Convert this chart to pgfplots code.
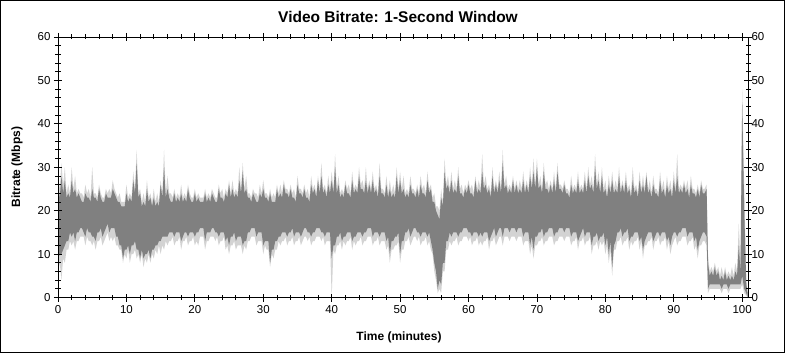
\documentclass[border=0pt]{standalone}
\usepackage{fontspec}
\setmainfont{Liberation Sans}
\usepackage{pgfplots}
\usepackage{pgfplotstable}
\usepgfplotslibrary{fillbetween}
\pgfplotsset{compat=1.18}
\definecolor{lgray}{RGB}{211,211,211}
\definecolor{dgray}{RGB}{128,128,128}

\pgfplotstableread{
t lmin dmin dmax lmax
0.0 6 9 25 28
0.25 8 10 23 25
0.5 4 10 28 31
0.75 9 11 24 26
1.0 8 12 27 30
1.25 11 13 23 24
1.5 11 13 24 26
1.75 13 15 23 24
2.0 12 14 27 30
2.25 13 15 24 25
2.5 11 13 25 28
2.75 13 15 23 24
3.0 13 15 24 25
3.25 14 16 23 24
3.5 14 16 22 24
3.75 14 15 22 23
4.0 12 14 24 26
4.25 14 16 23 24
4.5 13 15 23 25
4.75 13 15 22 23
5.0 12 14 25 30
5.25 13 14 23 24
5.5 11 13 23 24
5.75 13 15 22 23
6.0 13 15 25 26
6.25 14 16 23 24
6.5 12 14 22 23
6.75 13 15 22 23
7.0 14 16 24 25
7.25 15 17 23 24
7.5 13 15 23 25
7.75 14 16 23 24
8.0 13 16 25 27
8.25 14 16 24 25
8.5 12 14 23 24
8.75 12 14 22 23
9.0 11 12 22 24
9.25 11 12 21 22
9.5 8 9 21 22
9.75 10 11 21 22
10.0 9 11 24 26
10.25 11 12 22 23
10.5 8 10 23 24
10.75 10 12 22 23
11.0 10 12 27 29
11.25 11 13 24 25
11.5 9 11 31 34
11.75 10 11 23 24
12.0 8 9 24 25
12.25 10 11 21 22
12.5 7 9 22 24
12.75 9 10 21 22
13.0 8 10 25 27
13.25 10 11 22 23
13.5 8 9 23 24
13.75 10 11 21 22
14.0 9 11 23 25
14.25 11 12 21 22
14.5 10 12 22 24
14.75 12 13 21 22
15.0 10 13 26 27
15.25 12 14 23 24
15.5 11 14 30 34
15.75 13 14 23 24
16.0 12 14 25 28
16.25 13 15 23 24
16.5 13 15 22 24
16.75 14 15 22 23
17.0 12 14 24 25
17.25 13 15 22 23
17.5 13 15 23 24
17.75 14 15 22 23
18.0 11 13 24 26
18.25 13 14 22 23
18.5 13 15 23 24
18.75 14 15 22 23
19.0 12 14 25 26
19.25 13 15 23 24
19.5 13 15 22 23
19.75 14 15 22 23
20.0 12 14 24 25
20.25 13 15 22 23
20.5 12 15 23 24
20.75 14 16 22 23
21.0 14 16 22 23
21.25 14 16 22 23
21.5 11 13 24 25
21.75 13 15 22 23
22.0 13 15 23 24
22.25 14 15 22 23
22.5 14 16 24 25
22.75 14 16 23 24
23.0 13 15 22 23
23.25 14 15 22 23
23.5 12 14 25 26
23.75 13 15 23 24
24.0 13 15 23 25
24.25 14 15 22 23
24.5 11 13 24 25
24.75 12 14 23 24
25.0 10 12 26 27
25.25 12 14 23 24
25.5 12 14 25 27
25.75 13 15 23 24
26.0 11 13 24 25
26.25 12 14 23 24
26.5 12 14 27 30
26.75 12 14 24 25
27.0 10 12 29 31
27.25 12 13 24 25
27.5 11 13 25 28
27.75 13 15 23 24
28.0 13 15 23 24
28.25 14 16 22 23
28.5 14 16 24 25
28.75 14 16 23 24
29.0 12 14 22 24
29.25 13 15 22 23
29.5 13 15 24 26
29.75 13 15 23 24
30.0 10 12 25 27
30.25 12 13 23 24
30.5 11 13 23 24
30.75 11 13 22 23
31.0 7 8 24 25
31.25 10 11 22 23
31.5 9 11 22 24
31.75 11 13 22 23
32.0 11 13 25 26
32.25 13 14 23 24
32.5 12 14 24 26
32.75 13 15 23 24
33.0 13 15 26 27
33.25 14 15 24 25
33.5 12 14 24 25
33.75 13 15 23 24
34.0 13 15 25 26
34.25 14 16 23 24
34.5 12 14 23 25
34.75 13 15 22 23
35.0 13 15 26 28
35.25 14 15 24 25
35.5 12 14 24 25
35.75 13 15 23 24
36.0 14 16 25 26
36.25 14 16 23 24
36.5 13 15 23 25
36.75 14 15 22 23
37.0 12 14 26 28
37.25 13 15 24 25
37.5 13 15 25 26
37.75 14 16 23 24
38.0 14 16 27 28
38.25 14 16 24 25
38.5 13 15 28 31
38.75 14 15 24 25
39.0 12 14 25 26
39.25 13 15 23 24
39.5 13 15 26 28
39.75 13 15 24 25
40.0 0 9 27 29
40.25 11 12 24 25
40.5 10 12 30 33
40.75 12 14 24 25
41.0 12 14 26 28
41.25 13 15 23 24
41.5 11 13 24 25
41.75 13 14 23 24
42.0 12 14 26 27
42.25 13 15 24 25
42.5 13 15 24 26
42.75 14 15 23 24
43.0 11 13 27 29
43.25 13 14 24 25
43.5 12 14 25 26
43.75 13 15 24 25
44.0 13 15 28 30
44.25 14 15 25 26
44.5 12 14 25 27
44.75 13 15 24 25
45.0 13 15 27 30
45.25 14 16 24 25
45.5 14 16 26 27
45.75 14 16 24 25
46.0 12 14 27 29
46.25 13 15 24 25
46.5 13 15 25 26
46.75 14 15 23 24
47.0 12 14 28 31
47.25 13 15 24 25
47.5 13 15 24 25
47.75 13 15 23 24
48.0 11 13 26 28
48.25 12 14 23 24
48.5 8 10 25 27
48.75 11 13 23 24
49.0 11 13 24 26
49.25 12 14 23 24
49.5 12 14 28 30
49.75 13 15 24 25
50.0 8 10 27 29
50.25 11 13 24 25
50.5 11 13 25 28
50.75 13 15 23 24
51.0 13 15 24 25
51.25 14 16 23 24
51.5 12 14 26 28
51.75 13 15 24 25
52.0 14 16 24 25
52.25 14 16 23 24
52.5 13 15 25 26
52.75 14 15 23 24
53.0 12 14 26 28
53.25 13 15 24 25
53.5 13 15 24 26
53.75 14 15 23 24
54.0 12 14 27 29
54.25 13 15 24 25
54.5 11 13 25 26
54.75 10 11 22 23
55.0 6 8 22 24
55.25 4 6 20 21
55.5 1 2 19 21
55.75 2 4 18 20
56.0 1 3 23 25
56.25 6 8 21 22
56.5 6 8 29 32
56.75 11 13 25 26
57.0 11 13 26 28
57.25 13 15 24 25
57.5 12 14 27 29
57.75 13 15 24 25
58.0 13 15 25 27
58.25 14 15 24 25
58.5 12 14 28 30
58.75 13 15 24 25
59.0 13 15 24 26
59.25 14 16 23 24
59.5 14 16 25 26
59.75 14 16 24 25
60.0 13 15 26 27
60.25 14 15 24 25
60.5 12 14 24 26
60.75 13 15 23 24
61.0 13 15 27 28
61.25 14 15 24 25
61.5 12 14 25 27
61.75 13 15 24 25
62.0 12 14 29 33
62.25 13 15 25 26
62.5 13 15 26 28
62.75 14 15 24 25
63.0 11 13 25 26
63.25 13 14 23 24
63.5 13 15 28 30
63.75 14 16 24 25
64.0 12 14 26 27
64.25 13 15 24 25
64.5 14 16 27 29
64.75 14 16 24 25
65.0 12 14 31 34
65.25 14 16 25 26
65.5 14 16 26 28
65.75 14 16 24 25
66.0 13 15 25 26
66.25 14 16 24 25
66.5 14 16 27 28
66.75 14 16 24 25
67.0 13 15 26 27
67.25 14 16 24 25
67.5 14 16 25 27
67.75 14 16 24 25
68.0 12 14 27 29
68.25 13 15 24 25
68.5 13 15 26 27
68.75 13 15 24 25
69.0 10 12 28 30
69.25 12 14 25 26
69.5 9 11 29 32
69.75 12 14 25 26
70.0 12 14 30 32
70.25 13 15 25 26
70.5 13 15 26 28
70.75 14 16 24 25
71.0 12 14 29 31
71.25 13 15 25 26
71.5 13 15 25 27
71.75 14 16 24 25
72.0 14 16 26 27
72.25 14 16 24 25
72.5 12 14 27 29
72.75 13 15 24 25
73.0 13 15 29 31
73.25 14 16 25 26
73.5 14 16 25 26
73.75 14 16 24 25
74.0 13 15 26 27
74.25 14 16 24 25
74.5 14 16 24 25
74.75 14 16 23 24
75.0 12 14 26 28
75.25 13 15 24 25
75.5 13 15 25 26
75.75 14 15 24 25
76.0 11 13 27 29
76.25 13 14 24 25
76.5 13 15 25 26
76.75 14 16 24 25
77.0 12 14 27 29
77.25 13 15 24 25
77.5 13 15 28 30
77.75 14 15 25 26
78.0 10 12 26 28
78.25 12 14 24 25
78.5 12 14 30 33
78.75 13 15 25 26
79.0 11 13 27 29
79.25 13 14 24 25
79.5 12 14 28 30
79.75 13 15 24 25
80.0 10 12 25 27
80.25 12 14 23 24
80.5 8 10 26 28
80.75 11 13 24 25
81.0 5 7 27 29
81.25 11 12 24 25
81.5 11 13 25 27
81.75 13 15 24 25
82.0 13 15 28 30
82.25 14 16 24 25
82.5 12 14 26 27
82.75 13 15 24 25
83.0 13 15 27 29
83.25 14 16 24 25
83.5 11 13 25 26
83.75 13 14 23 24
84.0 12 14 27 30
84.25 13 15 24 25
84.5 13 15 25 26
84.75 14 15 23 24
85.0 11 13 27 29
85.25 13 14 24 25
85.5 9 11 26 28
85.75 12 13 24 25
86.0 12 14 28 29
86.25 13 15 24 25
86.5 13 15 25 27
86.75 14 15 23 24
87.0 11 13 26 28
87.25 13 14 24 25
87.5 13 15 24 25
87.75 14 15 23 24
88.0 12 14 27 29
88.25 13 15 24 25
88.5 13 15 25 27
88.75 14 15 23 24
89.0 11 13 26 28
89.25 13 14 24 25
89.5 10 12 25 27
89.75 12 14 23 24
90.0 13 15 27 29
90.25 14 15 24 25
90.5 12 14 28 33
90.75 13 15 24 25
91.0 13 15 25 26
91.25 14 16 24 25
91.5 14 16 26 27
91.75 14 16 24 25
92.0 12 14 25 27
92.25 13 15 23 24
92.5 13 15 26 28
92.75 14 15 24 25
93.0 11 13 24 25
93.25 12 14 23 24
93.5 9 11 25 26
93.75 12 13 23 24
94.0 12 14 26 27
94.25 13 15 24 25
94.5 13 15 24 25
94.8 12 14 25 26
95.0 1 2 8 10
95.25 2 3 5 6
95.5 2 3 6 7
95.75 2 3 5 6
96.0 2 3 7 8
96.25 2 3 5 6
96.5 2 3 6 7
96.75 2 3 4 5
97.0 1 2 5 7
97.25 2 3 4 5
97.5 2 3 6 7
97.75 2 3 4 5
98.0 1 2 5 6
98.25 2 3 4 5
98.5 2 3 5 7
98.75 2 3 4 5
99.0 2 3 6 8
99.25 2 3 5 6
99.5 2 3 12 17
99.75 2 3 6 8
100.0 3 5 45 48
100.3 1 2 20 25
100.6 0.5 1 3 4
100.8 0 0 1 1
}\bitrate

\begin{document}
\begin{tikzpicture}
\pgfplotsset{
  common/.style={
    at={(0,0)}, anchor=south west, scale only axis,
    width=690bp, height=260.5bp,
    xmin=0, xmax=100.85, ymin=0, ymax=60,
    xtick={0,10,...,100}, ytick={0,10,...,60},
    minor x tick num=4, minor y tick num=4,
    tick align=center, major tick length=8bp, minor tick length=5bp,
    axis line style={line width=0.8bp},
    every tick/.style={black, line width=0.8bp},
    ticklabel style={font=\fontsize{11.5bp}{13bp}\selectfont},
    /pgf/number format/assume math mode=true,
  }
}
\begin{axis}[common, axis on top, xtick pos=both, ytick pos=both]
\addplot[draw=none, name path=lmax] table[x=t,y=lmax]{\bitrate};
\addplot[draw=none, name path=lmin] table[x=t,y=lmin]{\bitrate};
\addplot[lgray] fill between[of=lmax and lmin];
\addplot[draw=none, name path=dmax] table[x=t,y=dmax]{\bitrate};
\addplot[draw=none, name path=dmin] table[x=t,y=dmin]{\bitrate};
\addplot[dgray] fill between[of=dmax and dmin];
\end{axis}
\begin{axis}[common, axis x line=none, axis y line*=right, ytick pos=right, yticklabel pos=right, major tick length=0pt, minor tick length=0pt]
\end{axis}
\node[font=\bfseries\fontsize{15.5bp}{17bp}\selectfont] at (340bp,280.5bp) {Video Bitrate: 1-Second Window};
\node[font=\bfseries\fontsize{12bp}{14bp}\selectfont] at (341bp,-39.5bp) {Time (minutes)};
\node[font=\bfseries\fontsize{12bp}{14bp}\selectfont, rotate=90] at (-41bp,130.5bp) {Bitrate (Mbps)};
\pgfresetboundingbox
\path[use as bounding box] (-58bp,-55.5bp) rectangle (727bp,297.5bp);
\draw[line width=1.5bp] (-57.25bp,-54.75bp) rectangle (726.25bp,296.75bp);
\end{tikzpicture}
\end{document}
